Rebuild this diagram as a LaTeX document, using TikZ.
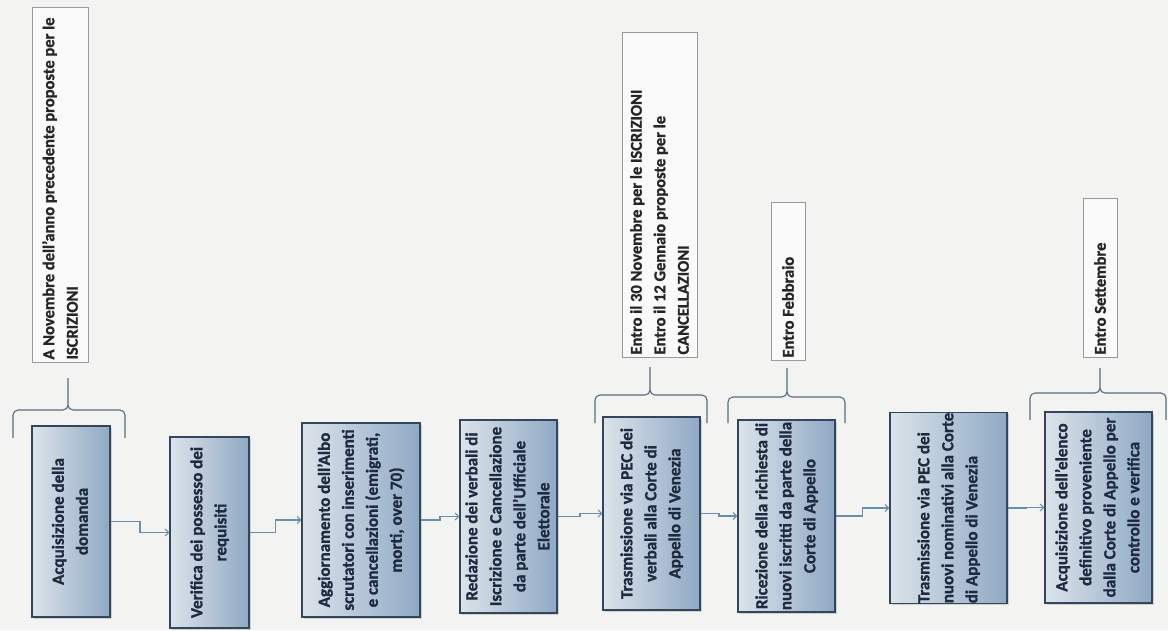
\documentclass[tikz,border=0pt]{standalone}
\usepackage{fontspec}
\setmainfont{Carlito}[BoldFeatures={FakeBold=1.2}]
\usetikzlibrary{arrows.meta,calc,shadows}
\definecolor{paper}{HTML}{F3F3F2}
\definecolor{boxL}{HTML}{DCE3EA}
\definecolor{boxR}{HTML}{8FA9C4}
\definecolor{boxline}{HTML}{34465E}
\definecolor{boxtext}{HTML}{1E2A40}
\definecolor{flowline}{HTML}{6A8DAE}
\definecolor{braceline}{HTML}{556B82}
\definecolor{noteline}{HTML}{9A9A9A}
\tikzset{
 stepbox/.style={draw=boxline,line width=1.3pt,left color=boxL,right color=boxR,
  drop shadow={opacity=.3,shadow xshift=1.5pt,shadow yshift=-1.5pt},
  inner sep=0pt,text=boxtext,font=\fontsize{17}{24}\selectfont\bfseries},
 notebox/.style={draw=noteline,line width=.6pt,fill=white!60!paper,inner sep=0pt,
  text=black!85,font=\fontsize{16.5}{23.5}\selectfont\bfseries},
 flowarrow/.style={draw=flowline,line width=1.1pt,-{Straight Barb[length=3.5pt,width=7pt]}},
 bracel/.style={draw=braceline,line width=1.1pt,rounded corners=5pt}
}
\begin{document}
\begin{tikzpicture}[x=1pt,y=-1pt]
\fill[paper] (0,0) rectangle (1168,630);
\useasboundingbox (0,0) rectangle (1168,630);
% steps of the procedure
\foreach \nm/\cx/\cy/\w/\h/\al/\txt in {
 b1/71/521.5/78/191/c/{Acquisizione della\\domanda},
 b2/209.5/532.5/79/191/c/{Verifica dei possesso dei\\requisiti},
 b3/361/520/118/194/c/{Aggiornamento dell'Albo\\scrutatori con inserimenti\\e cancellazioni (emigrati,\\morti, over 70)},
 b4/508.5/516.5/97/193/c/{Redazione dei verbali di\\Iscrizione e Cancellazione\\da parte dell'Ufficiale\\Elettorale},
 b5/651.5/513.5/97/193/c/{Trasmissione via PEC dei\\verbali alla Corte di\\Appello di Venezia},
 b6/786.5/516/97/192/c/{Ricezione della richiesta di\\nuovi iscritti da parte della\\Corte di Appello},
 b7/948.5/508/117/190/l/{Trasmissione via PEC dei\\nuovi nominativi alla Corte\\di Appello di Venezia},
 b8/1098.5/507.5/107/191/c/{Acquisizione dell'elenco\\definitivo proveniente\\dalla Corte di Appello per\\controllo e verifica}}
 \node[stepbox,minimum width=\w pt,minimum height=\h pt] (\nm) at (\cx,\cy)
  {\rotatebox{90}{\begin{tabular}{@{}\al@{}}\txt\end{tabular}}};
\foreach \a/\b in {b1/b2,b2/b3,b3/b4,b4/b5,b5/b6,b6/b7,b7/b8}
 \draw[flowarrow] (\a.east) -| ($(\a.east)!.5!(\b.west)$) |- (\b.west);
% deadlines
\foreach \nm/\cx/\cy/\w/\h/\txt in {
 n1/60/184.5/56/355/{A Novembre dell'anno precedente proposte per le\\ISCRIZIONI},
 n5/659.5/194.5/75/325/{Entro il 30 Novembre per le ISCRIZIONI\\Entro il 12 Gennaio proposte per le\\CANCELLAZIONI},
 n6/788/281/34/158/{Entro Febbraio},
 n8/1100/277.5/34/159/{Entro Settembre}}
 \node[notebox,minimum width=\w pt,minimum height=\h pt] (\nm) at (\cx,\cy)
  {\rotatebox{90}{\parbox{\dimexpr\h pt-5pt\relax}{\raggedright\txt}}};
\foreach \l/\m/\r/\bot/\hy/\tip in {13/68/125/438/410/378,595/650/707/423/395/367,
 728/787/845/423/397/368,1030/1100/1166/420/393/368}
 \draw[bracel] (\l,\bot) |- (\m,\hy) -- (\m,\tip) (\r,\bot) |- (\m,\hy) -- (\m,\tip);
\end{tikzpicture}
\end{document}
